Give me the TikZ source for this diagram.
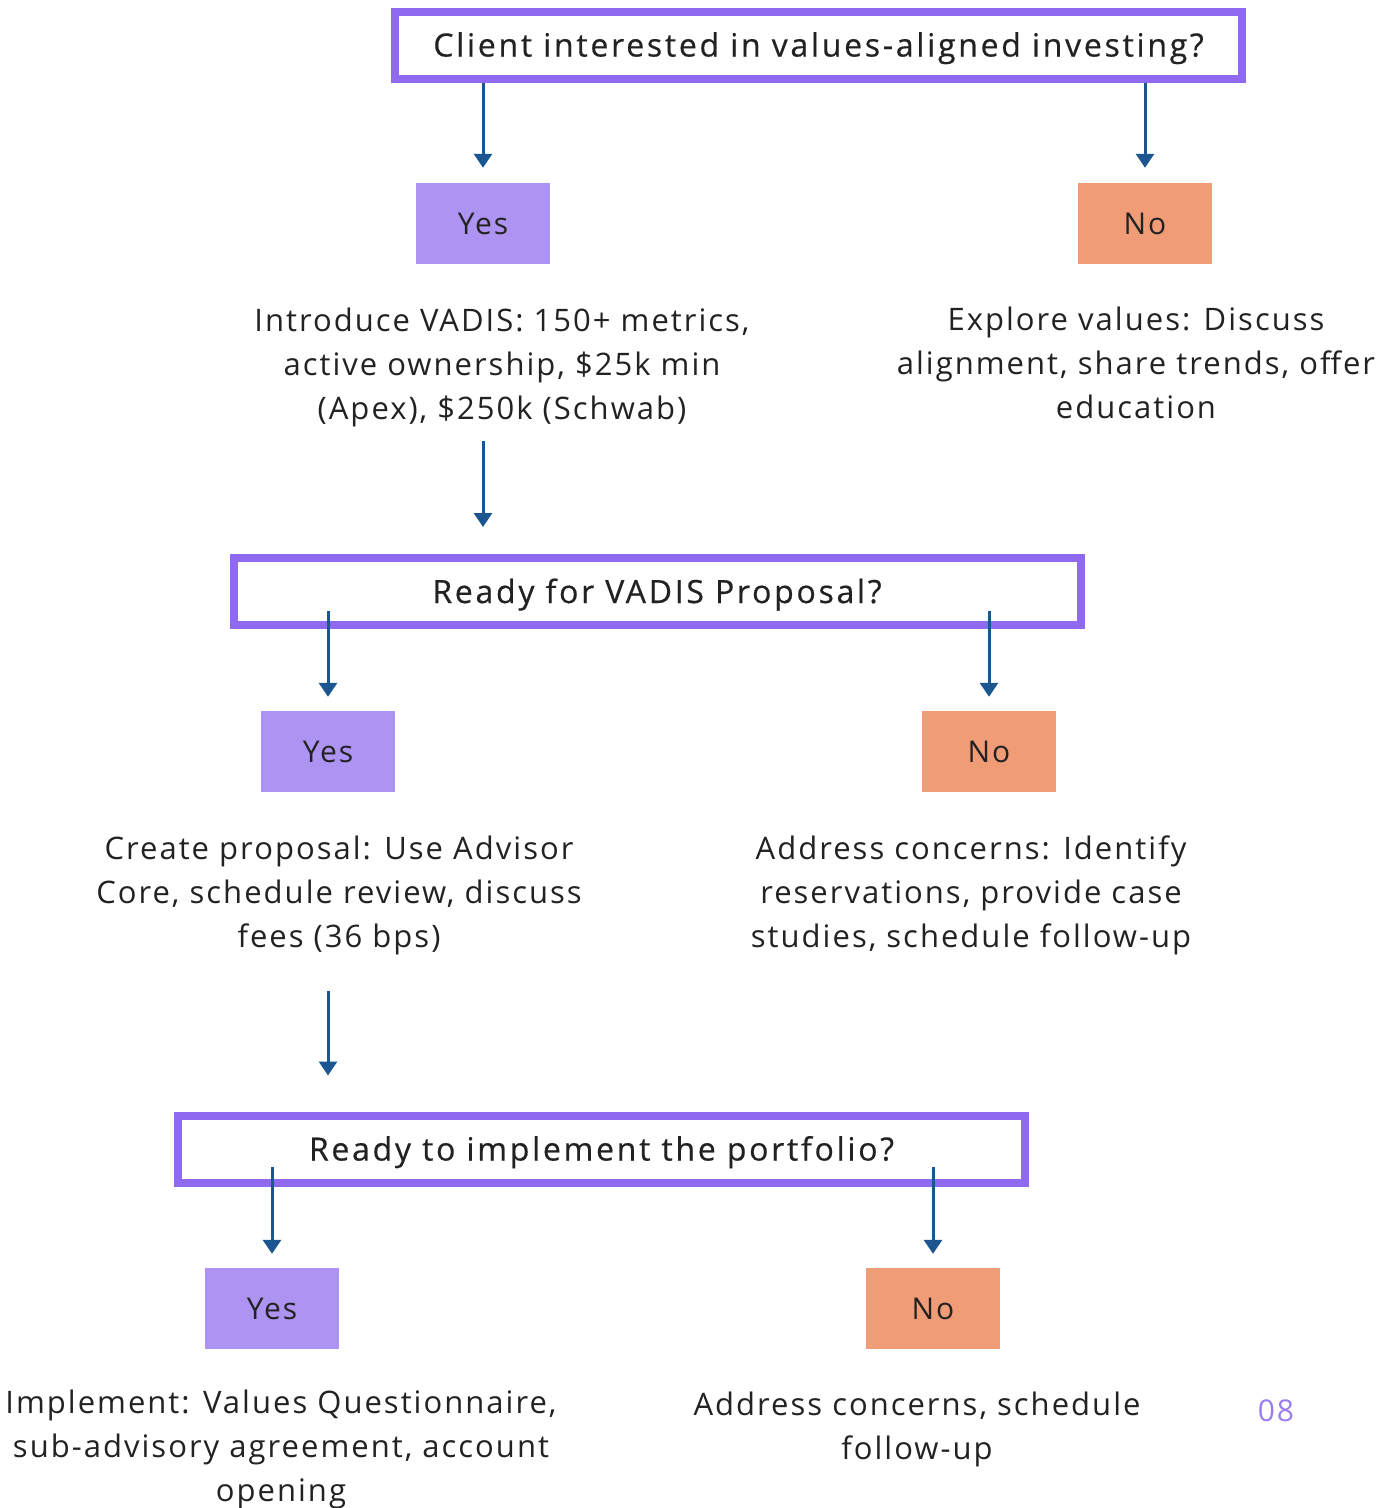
\documentclass[tikz,border=0pt]{standalone}
\usepackage{fontspec}
\setmainfont{Open Sans}[LetterSpace=6.5]
\newfontfamily\titlefont{Open Sans}[LetterSpace=8.5,FakeBold=0.5]
\usetikzlibrary{arrows.meta,calc}
\definecolor{qborder}{HTML}{8F6AEE}
\definecolor{yesfill}{HTML}{AE94F2}
\definecolor{nofill}{HTML}{F09C77}
\definecolor{arrcol}{HTML}{1B5690}
\definecolor{txt}{HTML}{222222}
\definecolor{pagenum}{HTML}{9A7DF0}
\tikzset{
  qbox/.style={draw=qborder, line width=8pt, fill=white, minimum width=847pt, minimum height=67pt, inner sep=0pt, text=txt, text height=23pt, text depth=0pt, font=\titlefont\fontsize{32}{40}\selectfont},
  yesbox/.style={fill=yesfill, minimum width=134pt, minimum height=81pt, inner sep=0pt, text=txt, font=\fontsize{30}{40}\selectfont},
  nobox/.style={fill=nofill, minimum width=134pt, minimum height=81pt, inner sep=0pt, text=txt, font=\fontsize{30}{40}\selectfont},
  desc/.style={align=center, inner sep=0pt, text=txt, font=\fontsize{31}{44}\selectfont},
  arr/.style={draw=arrcol, line width=3pt, -{Triangle[width=18pt,length=14pt]}},
}
\begin{document}
\begin{tikzpicture}[x=1pt,y=-1pt]
\useasboundingbox (0,0) rectangle (1389,1508);
% level 1
\node[qbox] (q1) at (818.5,45) {Client interested in values-aligned investing?};
\node[yesbox] (yes1) at (483,223.5) {Yes};
\node[nobox] (no1) at (1145,223.5) {No};
\node[desc] (t1) at (502,367) {Introduce VADIS: 150+ metrics,\\active ownership, \$25k min\\(Apex), \$250k (Schwab)};
\node[desc] (t2) at (1136,363) {Explore values: Discuss\\alignment, share trends, offer\\education};
% level 2
\node[qbox] (q2) at (657,591.5) {Ready for VADIS Proposal?};
\node[yesbox] (yes2) at (328,751.5) {Yes};
\node[nobox] (no2) at (989,751.5) {No};
\node[desc] (t3) at (339,895) {Create proposal: Use Advisor\\Core, schedule review, discuss\\fees (36 bps)};
\node[desc] (t4) at (971,895) {Address concerns: Identify\\reservations, provide case\\studies, schedule follow-up};
% level 3
\node[qbox] (q3) at (601.5,1149) {Ready to implement the portfolio?};
\node[yesbox] (yes3) at (272,1308.5) {Yes};
\node[nobox] (no3) at (933,1308.5) {No};
\node[desc] (t5) at (281,1449) {Implement: Values Questionnaire,\\sub-advisory agreement, account\\opening};
\node[desc] (t6) at (917,1429) {Address concerns, schedule\\follow-up};
\node[text=pagenum, inner sep=0pt, font=\fontsize{30}{36}\selectfont] (pg) at (1276,1411) {08};
% connectors
\draw[arr, shorten >=15pt] (q1.south -| yes1.north) -- (yes1.north);
\draw[arr, shorten >=15pt] (q1.south -| no1.north) -- (no1.north);
\draw[arr, shorten <=14pt, shorten >=27pt] (t1.south -| yes1.south) -- (q2.north -| yes1.south);
\draw[arr, shorten <=-18pt, shorten >=14pt] (q2.south -| yes2.north) -- (yes2.north);
\draw[arr, shorten <=-18pt, shorten >=14pt] (q2.south -| no2.north) -- (no2.north);
\draw[arr, shorten <=36pt, shorten >=36pt] (t3.south -| yes2.south) -- (q3.north -| yes2.south);
\draw[arr, shorten <=-20pt, shorten >=14pt] (q3.south -| yes3.north) -- (yes3.north);
\draw[arr, shorten <=-20pt, shorten >=14pt] (q3.south -| no3.north) -- (no3.north);
\end{tikzpicture}
\end{document}
